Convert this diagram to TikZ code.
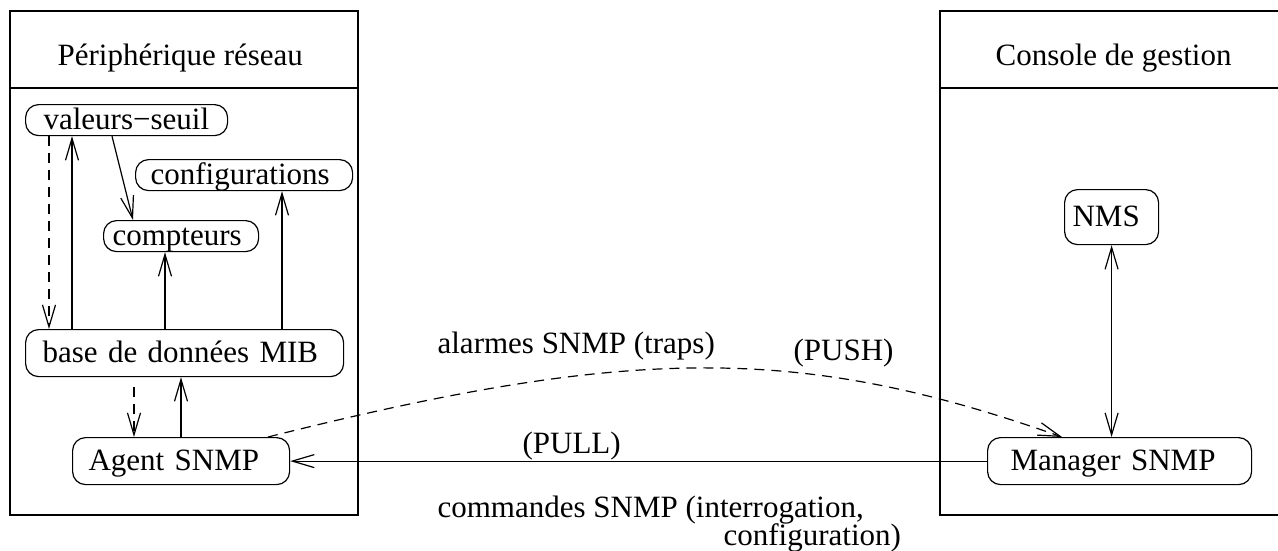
\documentclass[tikz,border=0pt]{standalone}
\usepackage{fontspec}
\setmainfont{Liberation Serif}
\usetikzlibrary{arrows.meta}
\newcommand\figfont{\fontsize{31}{27}\selectfont}
\begin{document}
\begin{tikzpicture}[x=1pt,y=-1pt,
  line width=1.2pt,
  font=\figfont,
  >={Straight Barb[length=22pt,width=13pt]},
  box/.style={draw,rounded corners=13pt,anchor=north west,align=left,
    inner ysep=0pt,text height=23pt,text depth=5pt},
  lbl/.style={anchor=base west,inner sep=0pt},
  dsh/.style={dash pattern=on 10pt off 7pt}]
\clip (0,0) rectangle (1278,550);
\fill[white] (0,0) rectangle (1278,550);
% frames
\draw (10,11) rectangle (358,515);
\draw (10,88) -- (358,88);
\draw (940,11) rectangle (1300,515);
\draw (940,88) -- (1300,88);
\node[lbl] (t1) at (57,65) {Périphérique réseau};
\node[lbl] (t2) at (995,65) {Console de gestion};
% nodes
\node[box,minimum height=31pt,text width=166pt,inner xsep=18pt] (vs) at (25,104) {valeurs−seuil};
\node[box,minimum height=31pt,text width=187pt,inner xsep=15pt] (conf) at (135,159) {configurations};
\node[box,minimum height=31pt,text width=137pt,inner xsep=9pt] (cpt) at (103,220) {compteurs};
\node[box,minimum height=47pt,text width=284pt,inner xsep=17pt] (mib) at (25,329) {base de données MIB};
\node[box,minimum height=47pt,text width=185pt,inner xsep=16pt] (agent) at (72,437) {Agent SNMP};
\node[box,minimum height=47pt,text width=218pt,inner xsep=23pt] (mgr) at (987,437) {Manager SNMP};
\node[box,minimum height=55pt,text width=78pt,inner xsep=8pt] (nms) at (1064,189) {NMS};
% connectors
\draw[dsh,->] ([xshift=24pt]vs.south west) -- ([xshift=24pt]mib.north west);
\draw[->] ([xshift=47pt]mib.north west) -- ([xshift=47pt]vs.south west);
\draw[->] ([xshift=87pt]vs.south west) -- ([xshift=30pt]cpt.north west);
\draw[->] ([xshift=140pt]mib.north west) -- ([xshift=62pt]cpt.south west);
\draw[->] ([xshift=257pt]mib.north west) -- ([xshift=147pt]conf.south west);
\draw[dsh,->] ([xshift=109pt,yshift=-10pt]mib.south west) -- ([xshift=62pt]agent.north west);
\draw[->] ([xshift=109pt]agent.north west) -- ([xshift=156pt]mib.south west);
\draw[->] (mgr.west) -- (agent.east);
\draw[dsh,->] ([xshift=196pt]agent.north west) .. controls (634,345) and (801,345) .. ([xshift=75pt]mgr.north west);
\draw[<->] (nms.south) -- (nms.south |- mgr.north);
% labels
\node[lbl] (l1) at (437,353) {alarmes SNMP (traps)};
\node[lbl] (l2) at (793,360) {(PUSH)};
\node[lbl] (l3) at (522,453) {(PULL)};
\node[lbl] (l4) at (437,517) {commandes SNMP (interrogation,};
\node[lbl] (l5) at (723,545) {configuration)};
\end{tikzpicture}
\end{document}
